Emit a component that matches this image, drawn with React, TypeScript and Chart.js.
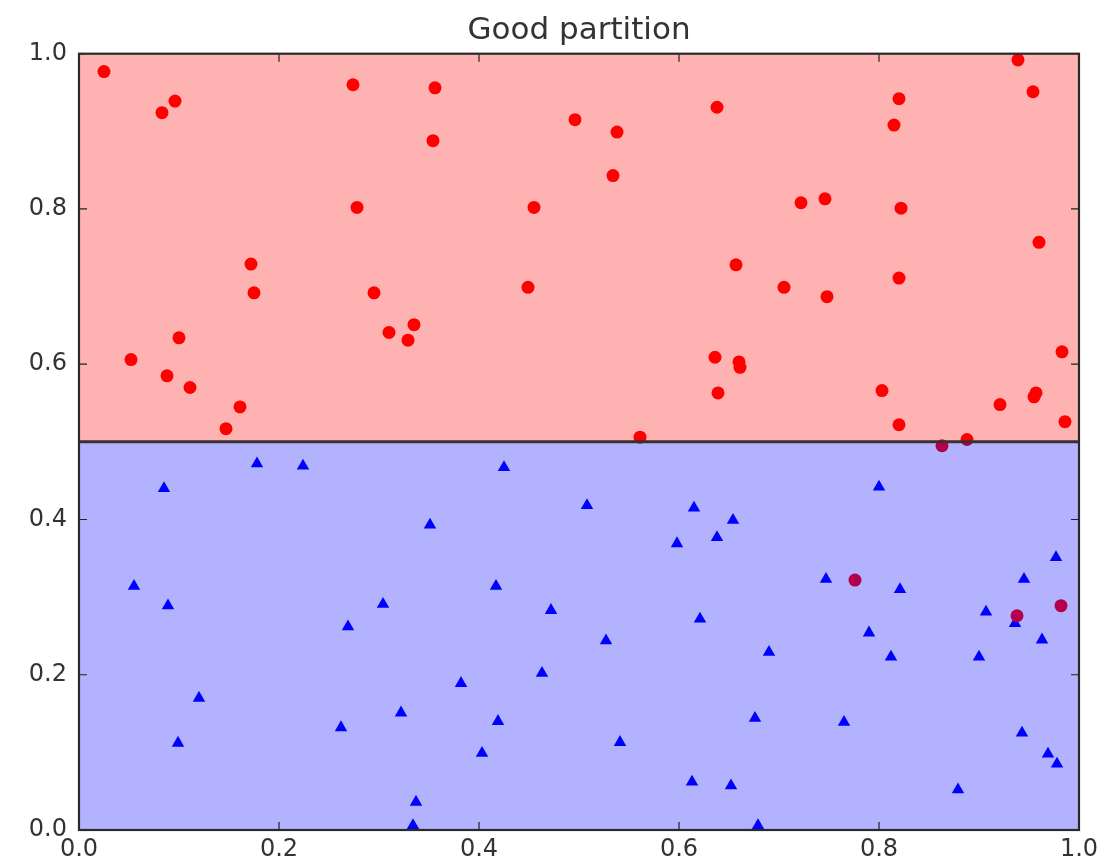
import { useEffect, useRef } from "react";
import { Chart, registerables } from "chart.js";

Chart.register(...registerables);

const CHART_TITLE = "Good partition";
const TICK_VALUES = [0.0, 0.2, 0.4, 0.6, 0.8, 1.0];
const BOUNDARY_Y = 0.5;

// Class A samples (red circles)
const redX = [
  0.025, 0.096, 0.083, 0.274, 0.356, 0.354, 0.278, 0.455, 0.172, 0.175,
  0.295, 0.449, 0.310, 0.335, 0.329, 0.100, 0.052, 0.088, 0.111, 0.161,
  0.147, 0.939, 0.954, 0.820, 0.815, 0.638, 0.496, 0.538, 0.534, 0.722,
  0.746, 0.822, 0.960, 0.657, 0.705, 0.748, 0.820, 0.636, 0.660, 0.661,
  0.639, 0.803, 0.820, 0.921, 0.955, 0.957, 0.983, 0.986, 0.561, 0.888,
  0.863, 0.776, 0.938, 0.982,
];
const redY = [
  0.977, 0.939, 0.924, 0.960, 0.956, 0.888, 0.802, 0.802, 0.729, 0.692,
  0.692, 0.699, 0.641, 0.651, 0.631, 0.634, 0.606, 0.585, 0.570, 0.545,
  0.517, 0.992, 0.951, 0.942, 0.908, 0.931, 0.915, 0.899, 0.843, 0.808,
  0.813, 0.801, 0.757, 0.728, 0.699, 0.687, 0.711, 0.609, 0.603, 0.596,
  0.563, 0.566, 0.522, 0.548, 0.558, 0.563, 0.616, 0.526, 0.506, 0.503,
  0.495, 0.322, 0.276, 0.289,
];

// Class B samples (blue triangles)
const blueX = [
  0.178, 0.224, 0.425, 0.085, 0.351, 0.055, 0.089, 0.417, 0.304, 0.269,
  0.472, 0.463, 0.382, 0.120, 0.322, 0.262, 0.419, 0.099, 0.403, 0.337,
  0.334, 0.508, 0.615, 0.654, 0.638, 0.598, 0.800, 0.747, 0.821, 0.977,
  0.945, 0.621, 0.527, 0.690, 0.907, 0.936, 0.790, 0.812, 0.900, 0.963,
  0.676, 0.765, 0.541, 0.943, 0.969, 0.978, 0.613, 0.652, 0.879, 0.679,
];
const blueY = [
  0.472, 0.469, 0.467, 0.440, 0.393, 0.314, 0.289, 0.314, 0.291, 0.262,
  0.283, 0.202, 0.189, 0.170, 0.151, 0.132, 0.140, 0.112, 0.099, 0.036,
  0.006, 0.418, 0.415, 0.399, 0.377, 0.369, 0.442, 0.323, 0.310, 0.351,
  0.323, 0.272, 0.244, 0.229, 0.281, 0.266, 0.254, 0.223, 0.223, 0.245,
  0.144, 0.139, 0.113, 0.125, 0.098, 0.085, 0.062, 0.057, 0.052, 0.006,
];

const FONT_FAMILY = "'DejaVu Sans', 'Liberation Sans', sans-serif";

const zip = (xs: number[], ys: number[]) => xs.map((x, i) => ({ x, y: ys[i] }));

// Translucent region fills laid over the markers, plus the boundary line,
// inward tick marks and the axes frame.
const partitionPlugin = {
  id: "partitionOverlay",
  afterDatasetsDraw(chart: any) {
    const { ctx, scales } = chart;
    const xs = scales.x;
    const ys = scales.y;
    const left = xs.getPixelForValue(0);
    const right = xs.getPixelForValue(1);
    const top = ys.getPixelForValue(1);
    const bottom = ys.getPixelForValue(0);
    const mid = ys.getPixelForValue(BOUNDARY_Y);

    ctx.save();
    ctx.fillStyle = "rgba(255, 0, 0, 0.3)";
    ctx.fillRect(left, top, right - left, mid - top);
    ctx.fillStyle = "rgba(0, 0, 255, 0.3)";
    ctx.fillRect(left, mid, right - left, bottom - mid);

    ctx.strokeStyle = "#3a2f33";
    ctx.lineWidth = 3;
    ctx.beginPath();
    ctx.moveTo(left, mid);
    ctx.lineTo(right, mid);
    ctx.stroke();

    ctx.strokeStyle = "#222";
    ctx.lineWidth = 1.2;
    const tickLen = 8;
    ctx.beginPath();
    TICK_VALUES.forEach((v) => {
      const px = xs.getPixelForValue(v);
      ctx.moveTo(px, bottom);
      ctx.lineTo(px, bottom - tickLen);
      ctx.moveTo(px, top);
      ctx.lineTo(px, top + tickLen);
      const py = ys.getPixelForValue(v);
      ctx.moveTo(left, py);
      ctx.lineTo(left + tickLen, py);
      ctx.moveTo(right, py);
      ctx.lineTo(right - tickLen, py);
    });
    ctx.stroke();

    ctx.strokeStyle = "#2a2a2a";
    ctx.lineWidth = 2.2;
    ctx.strokeRect(left, top, right - left, bottom - top);
    ctx.restore();
  },
};

export default function App() {
  const canvasRef = useRef<HTMLCanvasElement | null>(null);

  useEffect(() => {
    if (!canvasRef.current) return;
    const tickFont = { family: FONT_FAMILY, size: 24 };
    const setTicks = (scale: any) => {
      scale.ticks = TICK_VALUES.map((value) => ({ value }));
    };
    const chart = new Chart(canvasRef.current, {
      type: "scatter",
      data: {
        datasets: [
          {
            label: "class A",
            data: zip(redX, redY),
            pointStyle: "circle",
            pointRadius: 6.5,
            pointHoverRadius: 6.5,
            backgroundColor: "rgb(255, 0, 0)",
            borderWidth: 0,
          },
          {
            label: "class B",
            data: zip(blueX, blueY),
            pointStyle: "triangle",
            pointRadius: 7.2,
            pointHoverRadius: 7.2,
            backgroundColor: "rgb(0, 0, 255)",
            borderWidth: 0,
          },
        ],
      },
      options: {
        animation: false,
        responsive: false,
        devicePixelRatio: 1,
        layout: { padding: { left: 0, right: 28, top: 0, bottom: 0 } },
        plugins: {
          legend: { display: false },
          tooltip: { enabled: false },
          title: {
            display: true,
            fullSize: false,
            text: CHART_TITLE,
            color: "#333",
            font: { family: FONT_FAMILY, size: 31, weight: "normal" },
            padding: { top: 12.5, bottom: 4 },
          },
        },
        scales: {
          x: {
            type: "linear",
            min: 0,
            max: 1,
            afterBuildTicks: setTicks,
            afterFit: (s: any) => {
              s.height = 33;
            },
            grid: { display: false, drawTicks: false },
            border: { display: false },
            ticks: {
              color: "#333",
              font: tickFont,
              padding: 5,
              maxRotation: 0,
              callback: (v: any) => Number(v).toFixed(1),
            },
          },
          y: {
            type: "linear",
            min: 0,
            max: 1,
            afterBuildTicks: setTicks,
            afterFit: (s: any) => {
              s.width = 79;
            },
            grid: { display: false, drawTicks: false },
            border: { display: false },
            ticks: {
              color: "#333",
              font: tickFont,
              padding: 12,
              callback: (v: any) => Number(v).toFixed(1),
            },
          },
        },
      },
      plugins: [partitionPlugin],
    });
    return () => chart.destroy();
  }, []);

  return (
    <div
      style={{
        position: "fixed",
        left: 0,
        top: 0,
        width: 1107,
        height: 863,
        background: "#fff",
      }}
    >
      <canvas ref={canvasRef} width={1107} height={863} style={{ display: "block" }} />
    </div>
  );
}
